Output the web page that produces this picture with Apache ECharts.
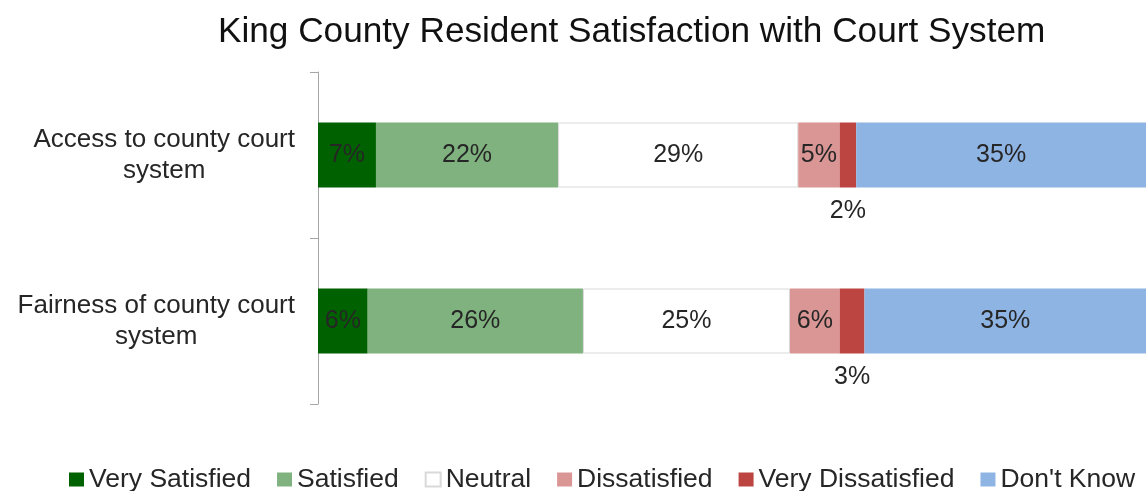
<!DOCTYPE html>
<html>
<head>
<meta charset="utf-8">
<script src="https://cdn.jsdelivr.net/npm/echarts@6/dist/echarts.min.js"></script>
<style>
  html, body { margin: 0; padding: 0; background: #fff; }
  #chart { width: 1146px; height: 491px; }
</style>
</head>
<body>
<div id="chart"></div>
<script>
const categories = ['Access to county court\nsystem', 'Fairness of county court\nsystem'];
const seriesNames = ['Very Satisfied', 'Satisfied', 'Neutral', 'Dissatisfied', 'Very Dissatisfied', "Don't Know"];
const verySatisfied = [7, 6];
const satisfied = [22, 26];
const neutral = [29, 25];
const dissatisfied = [5, 6];
const veryDissatisfied = [2, 3];
const dontKnow = [35, 35];
const colors = ['#006100', '#7fb27f', '#ffffff', '#d99694', '#bc4541', '#8eb4e3'];

const chart = echarts.init(document.getElementById('chart'));
const values = [verySatisfied, satisfied, neutral, dissatisfied, veryDissatisfied, dontKnow];

const series = values.map((arr, i) => ({
  name: seriesNames[i],
  type: 'bar',
  stack: 'total',
  barWidth: 65,
  data: arr,
  itemStyle: i === 2
    ? { color: colors[i], borderColor: '#d9d9d9', borderWidth: 1 }
    : { color: colors[i] },
  label: {
    show: true,
    position: i === 4 ? 'bottom' : 'inside',
    distance: 11,
    formatter: '{c}%',
    fontFamily: 'Liberation Sans',
    fontSize: 25,
    color: '#262626'
  }
}));

const option = {
  animation: false,
  title: {
    text: 'King County Resident Satisfaction with Court System',
    left: 213,
    top: 10,
    textStyle: {
      fontFamily: 'Liberation Sans',
      fontWeight: 'normal',
      fontSize: 35.2,
      color: '#111'
    }
  },
  legend: {
    top: 461,
    left: 64,
    icon: 'rect',
    itemWidth: 15,
    itemHeight: 14,
    itemGap: 26,
    textStyle: { fontFamily: 'Liberation Sans', fontSize: 26.5, color: '#262626' },
    data: seriesNames
  },
  grid: { left: 318, right: 0, top: 72, bottom: 87 },
  xAxis: {
    type: 'value',
    min: 0,
    max: 100,
    show: false
  },
  yAxis: {
    type: 'category',
    inverse: true,
    data: categories,
    axisLine: { show: true, lineStyle: { color: '#a6a6a6' } },
    axisTick: { show: true, length: 8, lineStyle: { color: '#a6a6a6' } },
    axisLabel: {
      margin: 23,
      formatter: v => v.split('\n').map(s => '{c|' + s + '}').join('\n'),
      rich: {
        c: {
          align: 'center',
          fontFamily: 'Liberation Sans',
          fontSize: 26,
          lineHeight: 31,
          color: '#262626'
        }
      }
    }
  },
  series: series
};

chart.setOption(option);
</script>
</body>
</html>
